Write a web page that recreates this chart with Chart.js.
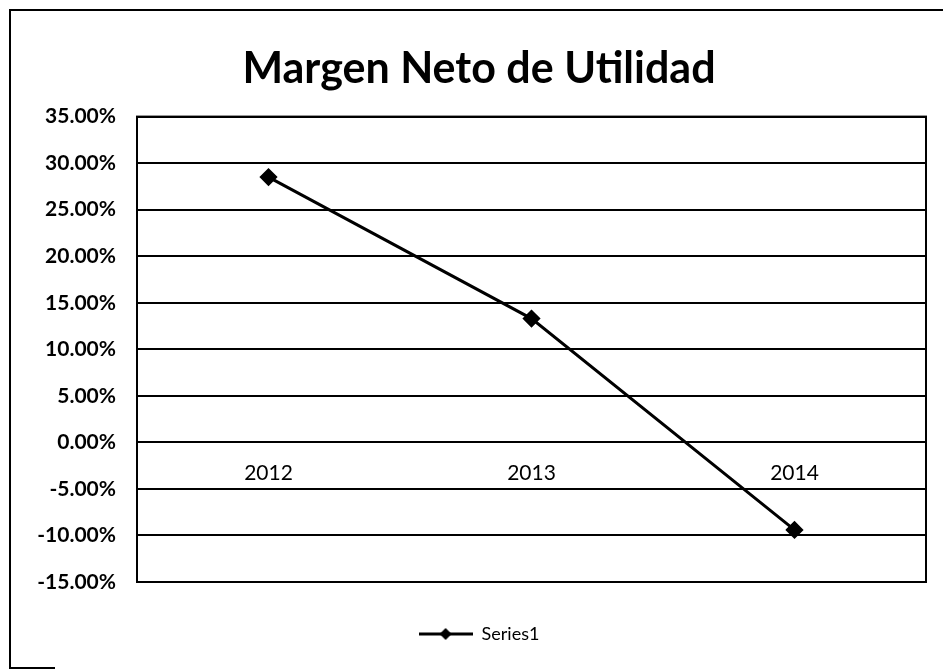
<!DOCTYPE html>
<html>
<head>
<meta charset="utf-8">
<script src="https://cdn.jsdelivr.net/npm/chart.js@4"></script>
<style>
  html, body { margin: 0; padding: 0; background: #fff; }
  #wrap { position: relative; width: 943px; height: 670px; }
</style>
</head>
<body>
<div id="wrap"><canvas id="chart-margin"></canvas></div>
<script>
// Datos del gráfico
const chartTitle = 'Margen Neto de Utilidad';
const seriesName = 'Series1';
const years = ['2012', '2013', '2014'];
const margin = [28.5, 13.3, -9.4];   // en %
const yMin = -15;
const yMax = 35;
const yStep = 5;

const FONT = 'Lato, "Open Sans", sans-serif';

/** Icono de la leyenda: línea con rombo */
function legendIcon() {
  const c = document.createElement('canvas');
  c.width = 54; c.height = 14;
  const g = c.getContext('2d');
  g.strokeStyle = '#000';
  g.lineWidth = 3;
  g.beginPath(); g.moveTo(0, 7); g.lineTo(54, 7); g.stroke();
  g.fillStyle = '#000';
  g.beginPath();
  g.moveTo(27, 1); g.lineTo(33, 7); g.lineTo(27, 13); g.lineTo(21, 7);
  g.closePath(); g.fill();
  return c;
}

/** Marco exterior y borde del área de trazado */
const framePlugin = {
  id: 'frame',
  afterDraw(chart) {
    const { ctx, chartArea: a } = chart;
    ctx.save();
    ctx.strokeStyle = '#000';
    ctx.lineWidth = 2;
    ctx.strokeRect(a.left, a.top, a.right - a.left, a.bottom - a.top);
    ctx.beginPath();
    ctx.moveTo(943, 10); ctx.lineTo(10, 10); ctx.lineTo(10, 668); ctx.lineTo(55, 668);
    ctx.stroke();
    ctx.restore();
  }
};

new Chart(document.getElementById('chart-margin'), {
  type: 'line',
  data: {
    labels: years,
    datasets: [{
      label: seriesName,
      data: margin,
      borderColor: '#000',
      backgroundColor: '#000',
      borderWidth: 3,
      tension: 0,
      pointStyle: 'rectRot',
      pointRadius: 7,
      pointBackgroundColor: '#000',
      pointBorderColor: '#000'
    }]
  },
  options: {
    responsive: true,
    maintainAspectRatio: false,
    animation: false,
    layout: { padding: { left: 15, right: 0, top: 0, bottom: 17 } },
    scales: {
      x: {
        position: { y: 0 },
        offset: true,
        grid: { display: false, drawTicks: false },
        border: { display: false },
        ticks: { color: '#000', padding: 18, font: { family: FONT, size: 21 } }
      },
      y: {
        min: yMin,
        max: yMax,
        afterFit: s => { s.width = 122; },
        grid: { color: '#000', lineWidth: 2, drawTicks: false },
        border: { display: false },
        ticks: {
          stepSize: yStep,
          color: '#000',
          padding: 21,
          font: { family: FONT, size: 21, weight: 'bold' },
          callback: v => v.toFixed(2) + '%'
        }
      },
      yRight: {
        position: 'right',
        display: true,
        afterFit: s => { s.width = 17; },
        grid: { display: false },
        border: { display: false },
        ticks: { display: false }
      }
    },
    plugins: {
      title: {
        display: true,
        text: chartTitle,
        color: '#000',
        font: { family: FONT, size: 43, weight: 'bold' },
        padding: { top: 43, bottom: 22 }
      },
      legend: {
        position: 'bottom',
        labels: {
          color: '#000',
          font: { family: FONT, size: 18 },
          usePointStyle: true,
          pointStyle: legendIcon(),
          pointStyleWidth: 54,
          padding: 43
        }
      },
      tooltip: { enabled: false }
    }
  },
  plugins: [framePlugin]
});
</script>
</body>
</html>
